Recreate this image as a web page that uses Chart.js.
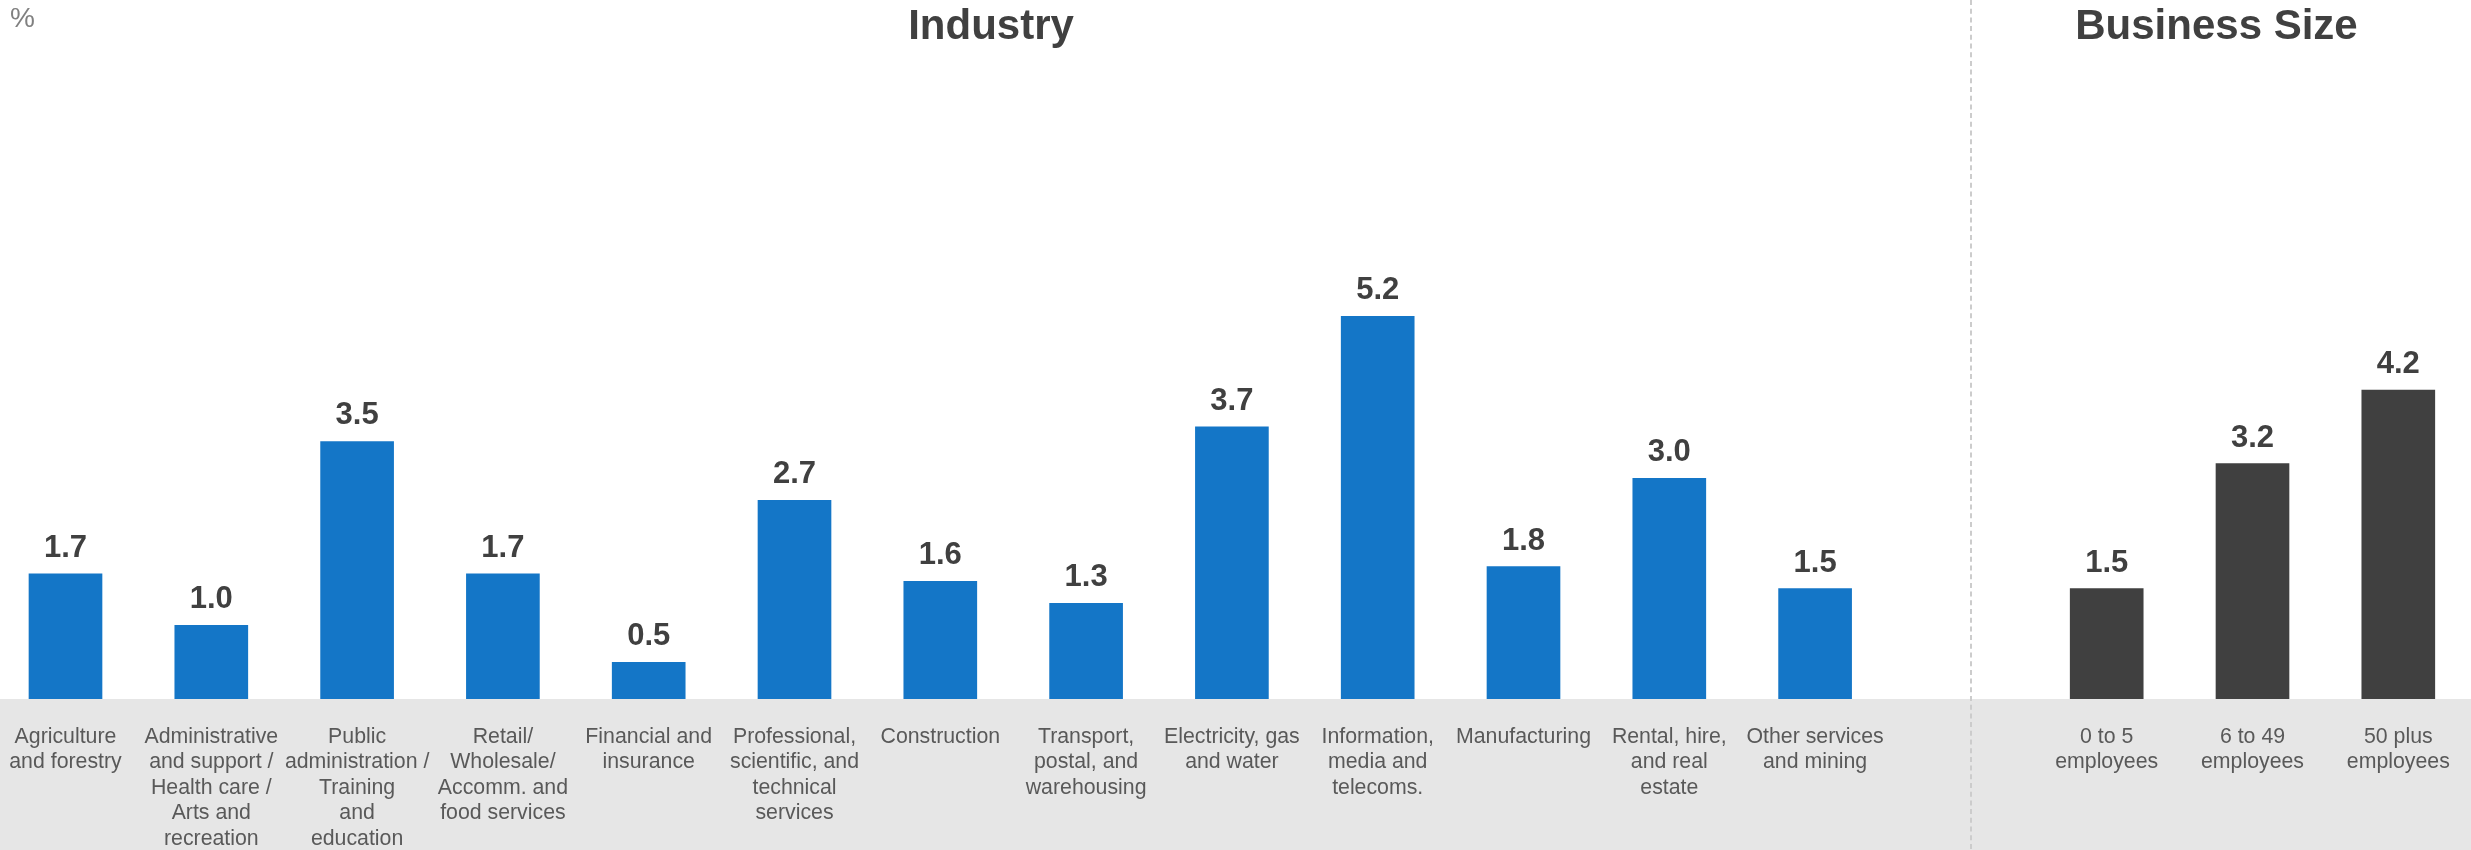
<!DOCTYPE html>
<html>
<head>
<meta charset="utf-8">
<script src="https://cdn.jsdelivr.net/npm/chart.js@4.4.1/dist/chart.umd.min.js"></script>
<style>
  html, body { margin: 0; padding: 0; background: #fff; }
  #wrap { width: 2471px; height: 850px; position: relative; }
</style>
</head>
<body>
<div id="wrap"><canvas id="chartIndustry"></canvas></div>
<script>
const _ = (id) => document.getElementById(id)

const industryLabels = [
  ['Agriculture', 'and forestry'],
  ['Administrative', 'and support /', 'Health care /', 'Arts and', 'recreation'],
  ['Public', 'administration /', 'Training', 'and', 'education'],
  ['Retail/', 'Wholesale/', 'Accomm. and', 'food services'],
  ['Financial and', 'insurance'],
  ['Professional,', 'scientific, and', 'technical', 'services'],
  ['Construction'],
  ['Transport,', 'postal, and', 'warehousing'],
  ['Electricity, gas', 'and water'],
  ['Information,', 'media and', 'telecoms.'],
  ['Manufacturing'],
  ['Rental, hire,', 'and real', 'estate'],
  ['Other services', 'and mining'],
]
const industryValues = [1.7, 1.0, 3.5, 1.7, 0.5, 2.7, 1.6, 1.3, 3.7, 5.2, 1.8, 3.0, 1.5]

const sizeLabels = [
  ['0 to 5', 'employees'],
  ['6 to 49', 'employees'],
  ['50 plus', 'employees'],
]
const sizeValues = [1.5, 3.2, 4.2]

// one empty slot between the two groups
const sizeOffset = industryLabels.length + 1
const allLabels = [...industryLabels, [''], ...sizeLabels]

const slot = 145.8
const firstCenter = 65.5
const W = 2471

const backgroundPlugin = {
  id: 'background',
  beforeDraw(chart) {
    const { ctx, chartArea } = chart
    ctx.save()
    ctx.fillStyle = '#ffffff'
    ctx.fillRect(0, 0, chart.width, chart.height)
    ctx.fillStyle = '#e6e6e6'
    ctx.fillRect(0, chartArea.bottom, chart.width, chart.height - chartArea.bottom)
    ctx.strokeStyle = '#cccccc'
    ctx.lineWidth = 2
    ctx.setLineDash([5, 3.7])
    ctx.beginPath()
    ctx.moveTo(1971, 0)
    ctx.lineTo(1971, chart.height)
    ctx.stroke()
    ctx.restore()
  },
  afterDraw(chart) {
    const { ctx } = chart
    ctx.save()
    ctx.fillStyle = '#404040'
    ctx.font = 'bold 42px "Liberation Sans", Arial, sans-serif'
    ctx.textAlign = 'center'
    ctx.textBaseline = 'alphabetic'
    ctx.fillText('Industry', 991, 39)
    ctx.fillText('Business Size', 2216.5, 39)
    ctx.fillStyle = '#808080'
    ctx.font = '28px "Liberation Sans", Arial, sans-serif'
    ctx.textAlign = 'left'
    ctx.fillText('%', 10, 27)
    ctx.restore()
  },
}

const valueLabelPlugin = {
  id: 'valueLabels',
  afterDatasetsDraw(chart) {
    const { ctx } = chart
    ctx.save()
    ctx.fillStyle = '#404040'
    ctx.font = 'bold 31px "Liberation Sans", Arial, sans-serif'
    ctx.textAlign = 'center'
    ctx.textBaseline = 'alphabetic'
    chart.data.datasets.forEach((ds, di) => {
      chart.getDatasetMeta(di).data.forEach((bar, i) => {
        ctx.fillText(ds.data[i].y.toFixed(1), bar.x, bar.y - 17)
      })
    })
    ctx.restore()
  },
}

new Chart(_('chartIndustry'), {
  type: 'bar',
  data: {
    datasets: [
      {
        label: 'Industry',
        data: industryValues.map((v, i) => ({ x: i, y: v })),
        backgroundColor: '#1476c7',
      },
      {
        label: 'Business Size',
        data: sizeValues.map((v, i) => ({ x: i + sizeOffset, y: v })),
        backgroundColor: '#404040',
      },
    ],
  },
  options: {
    responsive: true,
    maintainAspectRatio: false,
    animation: false,
    layout: { padding: 0 },
    barThickness: 73,
    grouped: false,
    plugins: {
      legend: { display: false },
      tooltip: { enabled: false },
    },
    scales: {
      x: {
        type: 'linear',
        bounds: 'data',
        offset: false,
        min: -firstCenter / slot,
        max: -firstCenter / slot + W / slot,
        grid: { display: false, drawTicks: false },
        border: { display: false },
        afterBuildTicks: (scale) => {
          scale.ticks = allLabels.map((l, i) => ({ value: i }))
        },
        afterFit: (scale) => {
          scale.height = 151
          scale.paddingLeft = 0
          scale.paddingRight = 0
        },
        ticks: {
          autoSkip: false,
          maxRotation: 0,
          minRotation: 0,
          padding: 25,
          color: '#595959',
          font: { family: '"Liberation Sans", Arial, sans-serif', size: 21.3, lineHeight: 1.2 },
          callback: (value) => allLabels[value] || '',
        },
      },
      y: {
        display: false,
        min: 0,
        max: 9.5,
      },
    },
  },
  plugins: [backgroundPlugin, valueLabelPlugin],
})
</script>
</body>
</html>
